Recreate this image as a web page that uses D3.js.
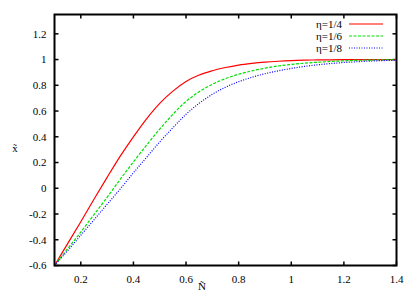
<!DOCTYPE html>
<html>
<head>
<meta charset="utf-8">
<script src="https://cdn.jsdelivr.net/npm/d3@7"></script>
<style>
  body { margin: 0; background: #fff; }
  svg text { font-family: "Liberation Serif", "Times New Roman", Times, "DejaVu Serif", serif; font-size: 11px; fill: #000; }
</style>
</head>
<body>
<svg id="chart" width="415" height="291" font-family="Liberation Serif, Times New Roman, serif"></svg>
<script>
// values
const xs = [0.10, 0.15, 0.20, 0.25, 0.30, 0.35, 0.40, 0.45, 0.50, 0.55, 0.60, 0.65, 0.70,
            0.75, 0.80, 0.85, 0.90, 0.95, 1.00, 1.05, 1.10, 1.20, 1.30, 1.40]
const eta4 = [-0.60, -0.43, -0.26, -0.085, 0.085, 0.25, 0.40, 0.54, 0.66, 0.755, 0.83, 0.88, 0.913,
              0.938, 0.957, 0.97, 0.98, 0.987, 0.992, 0.995, 0.997, 0.999, 1.0, 1.0]
const eta6 = [-0.60, -0.47, -0.34, -0.205, -0.07, 0.07, 0.205, 0.335, 0.46, 0.575, 0.675, 0.75, 0.808,
              0.852, 0.886, 0.912, 0.933, 0.95, 0.962, 0.972, 0.979, 0.99, 0.996, 0.999]
const eta8 = [-0.60, -0.485, -0.365, -0.245, -0.125, -0.005, 0.12, 0.24, 0.36, 0.47, 0.575, 0.66, 0.73,
              0.785, 0.828, 0.862, 0.89, 0.912, 0.931, 0.947, 0.959, 0.977, 0.988, 0.995]
const seriesNames = ["η=1/4", "η=1/6", "η=1/8"]
const xTicks = [0.2, 0.4, 0.6, 0.8, 1, 1.2, 1.4]
const yTicks = [-0.6, -0.4, -0.2, 0, 0.2, 0.4, 0.6, 0.8, 1, 1.2]

const svg = d3.select("#chart")

const pLeft = 54.5, pRight = 396.5, pTop = 14.5, pBottom = 265.5

const x = d3.scaleLinear().domain([0.1, 1.4]).range([pLeft, pRight])
const y = d3.scaleLinear().domain([-0.6, 1.35]).range([pBottom, pTop])

const styles = [
    { color: "#ff0000", dash: null },
    { color: "#00e000", dash: "3,1.5" },
    { color: "#0000ff", dash: "1,1.5" }
]

const fmt = d => String(+d.toFixed(1))

// ticks, inward on all four sides
const g = svg.append("g")
g.selectAll(".xt").data(xTicks).enter().append("line")
    .attr("x1", d => x(d)).attr("x2", d => x(d))
    .attr("y1", pBottom).attr("y2", pBottom - 4)
    .attr("stroke", "#000").attr("stroke-width", 1.5)
g.selectAll(".xtt").data(xTicks).enter().append("line")
    .attr("x1", d => x(d)).attr("x2", d => x(d))
    .attr("y1", pTop).attr("y2", pTop + 4)
    .attr("stroke", "#000").attr("stroke-width", 1.5)
g.selectAll(".yt").data(yTicks).enter().append("line")
    .attr("x1", pLeft).attr("x2", pLeft + 4)
    .attr("y1", d => y(d)).attr("y2", d => y(d))
    .attr("stroke", "#000").attr("stroke-width", 1.5)
g.selectAll(".ytr").data(yTicks).enter().append("line")
    .attr("x1", pRight).attr("x2", pRight - 4)
    .attr("y1", d => y(d)).attr("y2", d => y(d))
    .attr("stroke", "#000").attr("stroke-width", 1.5)

g.selectAll(".xl").data(xTicks).enter().append("text")
    .attr("x", d => x(d)).attr("y", 283)
    .attr("text-anchor", "middle")
    .text(fmt)
g.selectAll(".yl").data(yTicks).enter().append("text")
    .attr("x", pLeft - 8).attr("y", d => y(d) + 3.8)
    .attr("text-anchor", "end")
    .text(fmt)

// axis titles
svg.append("text").attr("x", 202).attr("y", 289.5).attr("text-anchor", "middle").text("Ñ")
svg.append("text").attr("x", 15).attr("y", 152).attr("text-anchor", "middle").text("x̃")

// curves
const line = d3.line()
    .x((d, i) => x(xs[i]))
    .y(d => y(d))
    .curve(d3.curveMonotoneX)

svg.append("clipPath").attr("id", "clip")
    .append("rect").attr("x", pLeft).attr("y", pTop)
    .attr("width", pRight - pLeft).attr("height", pBottom - pTop)

const curves = svg.append("g").attr("clip-path", "url(#clip)")
;[eta4, eta6, eta8].forEach((vals, i) => {
    curves.append("path")
        .datum(vals)
        .attr("d", line)
        .attr("fill", "none")
        .attr("stroke", styles[i].color)
        .attr("stroke-width", 1.2)
        .attr("stroke-dasharray", styles[i].dash)
})

// legend
const legend = svg.append("g")
seriesNames.forEach((name, i) => {
    const ly = 24 + i * 12
    legend.append("text")
        .attr("x", 342).attr("y", ly + 3.8)
        .attr("text-anchor", "end")
        .text(name)
    legend.append("line")
        .attr("x1", 349).attr("x2", 383)
        .attr("y1", ly).attr("y2", ly)
        .attr("stroke", styles[i].color)
        .attr("stroke-width", 1.2)
        .attr("stroke-dasharray", styles[i].dash)
})

// frame
svg.append("rect")
    .attr("x", pLeft).attr("y", pTop)
    .attr("width", pRight - pLeft).attr("height", pBottom - pTop)
    .attr("fill", "none").attr("stroke", "#000").attr("stroke-width", 2)
</script>
</body>
</html>
